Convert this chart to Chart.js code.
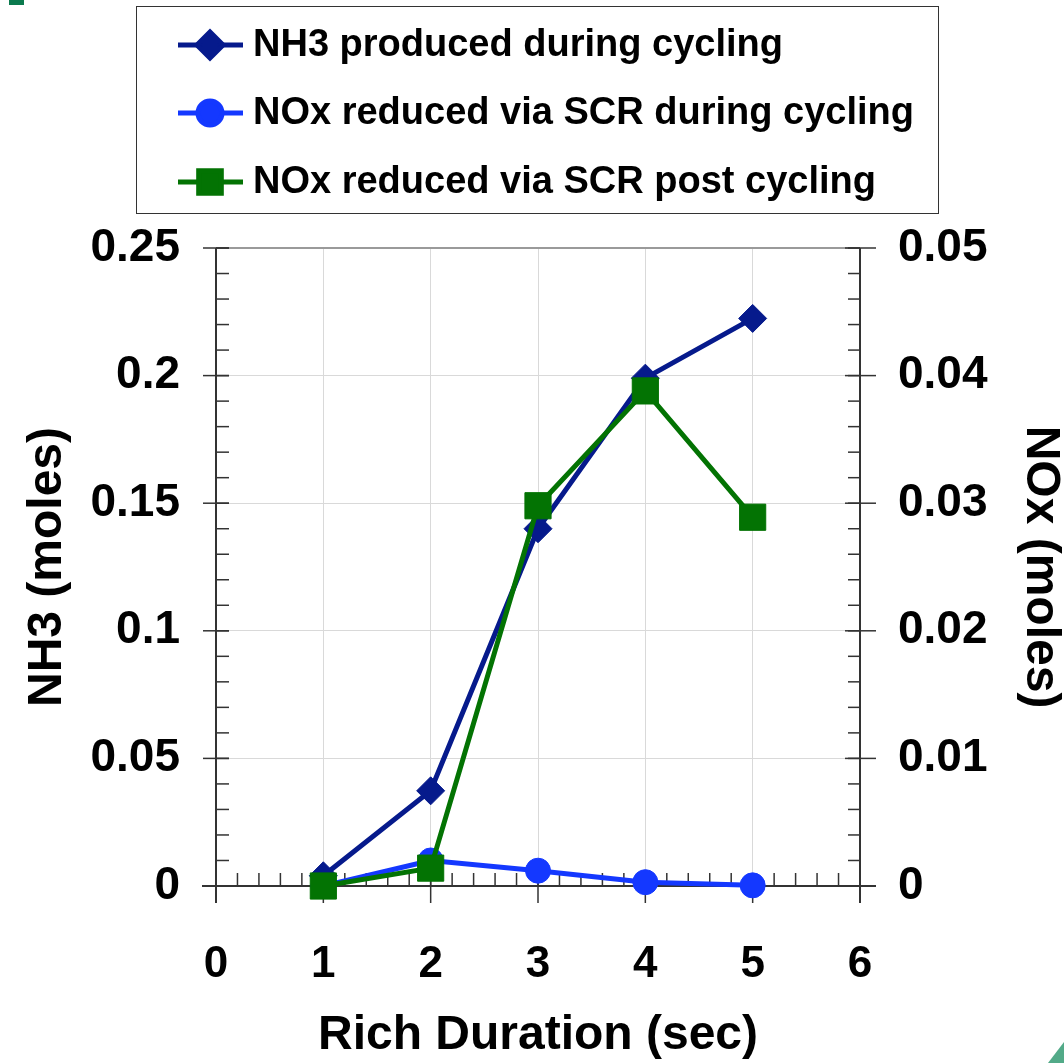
<!DOCTYPE html>
<html>
<head>
<meta charset="utf-8">
<script src="https://cdn.jsdelivr.net/npm/chart.js@4.4.1/dist/chart.umd.min.js"></script>
<style>
  html, body { margin: 0; padding: 0; background: #fff; }
  canvas { display: block; }
</style>
</head>
<body>
<canvas id="chart" width="1064" height="1063"></canvas>
<script>
// ========================================
// 데이터
// ========================================
const richDuration = [1, 2, 3, 4, 5];
const nh3Produced = [0.004, 0.0373, 0.140, 0.199, 0.2224];
const noxDuringCycling = [0.0, 0.0020, 0.0012, 0.0003, 0.00005];
const noxPostCycling = [0.0, 0.0014, 0.0298, 0.0388, 0.0289];

const seriesNames = [
  'NH3 produced during cycling',
  'NOx reduced via SCR during cycling',
  'NOx reduced via SCR post cycling'
];

const xTicks = [0, 1, 2, 3, 4, 5, 6];
const nh3Ticks = [0, 0.05, 0.1, 0.15, 0.2, 0.25];
const nh3TickLabels = ['0', '0.05', '0.1', '0.15', '0.2', '0.25'];
const noxTicks = [0, 0.01, 0.02, 0.03, 0.04, 0.05];
const noxTickLabels = ['0', '0.01', '0.02', '0.03', '0.04', '0.05'];

const FONT = '"Liberation Sans", Arial, sans-serif';

function toPoints(values) {
  return richDuration.map((d, i) => ({ x: d, y: values[i] }));
}

function seg(ctx, x1, y1, x2, y2) {
  ctx.beginPath();
  ctx.moveTo(x1, y1);
  ctx.lineTo(x2, y2);
  ctx.stroke();
}

// ========================================
// 배경 장식 (모서리 녹색 조각)
// ========================================
const cornerDecor = {
  id: 'cornerDecor',
  beforeDraw(chart) {
    const { ctx, width, height } = chart;
    ctx.save();
    ctx.fillStyle = '#0b7a4e';
    ctx.fillRect(9, 0, 15, 5);
    ctx.fillStyle = '#52aa88';
    ctx.beginPath();
    ctx.moveTo(width - 16, height);
    ctx.lineTo(width, height - 21);
    ctx.lineTo(width, height);
    ctx.closePath();
    ctx.fill();
    ctx.restore();
  }
};

// ========================================
// 축선, 주/보조 눈금
// ========================================
const axisFrame = {
  id: 'axisFrame',
  beforeDatasetsDraw(chart) {
    const { ctx, chartArea: a, scales } = chart;
    const x = scales.x, y = scales.y, y2 = scales.y2;
    ctx.save();

    // 위쪽 테두리
    ctx.strokeStyle = '#9a9a9a';
    ctx.lineWidth = 2;
    seg(ctx, a.left, a.top, a.right, a.top);

    ctx.strokeStyle = '#333';
    ctx.lineWidth = 1.5;

    // x축 보조 눈금 (0.2 간격, 안쪽)
    for (let i = 0; i <= 30; i++) {
      const px = x.getPixelForValue(i * 0.2);
      seg(ctx, px, a.bottom, px, a.bottom - 13);
    }
    // x축 주 눈금
    xTicks.forEach(v => {
      const px = x.getPixelForValue(v);
      seg(ctx, px, a.bottom - 13, px, a.bottom + 17);
    });

    // 왼쪽 축 보조 눈금
    for (let i = 0; i <= 25; i++) {
      const py = y.getPixelForValue(i * 0.01);
      seg(ctx, a.left, py, a.left + 13, py);
    }
    nh3Ticks.forEach(v => {
      const py = y.getPixelForValue(v);
      seg(ctx, a.left - 13, py, a.left + 13, py);
    });

    // 오른쪽 축 보조 눈금
    for (let i = 0; i <= 25; i++) {
      const py = y2.getPixelForValue(i * 0.002);
      seg(ctx, a.right - 12, py, a.right, py);
    }
    noxTicks.forEach(v => {
      const py = y2.getPixelForValue(v);
      seg(ctx, a.right - 15, py, a.right + 16, py);
    });

    // 축선
    ctx.lineWidth = 2;
    seg(ctx, a.left - 14, a.bottom, a.right + 16, a.bottom);
    seg(ctx, a.left, a.top, a.left, a.bottom + 17);
    seg(ctx, a.right, a.top, a.right, a.bottom + 17);

    ctx.restore();
  }
};

// ========================================
// 범례 상자
// ========================================
const legendBox = {
  id: 'legendBox',
  afterDraw(chart) {
    const { ctx } = chart;
    const box = { left: 136, top: 6, right: 938, bottom: 213 };
    const rows = [45, 113, 182];
    ctx.save();
    ctx.fillStyle = '#fff';
    ctx.fillRect(box.left, box.top, box.right - box.left, box.bottom - box.top);
    ctx.strokeStyle = '#333';
    ctx.lineWidth = 1;
    ctx.strokeRect(box.left + 0.5, box.top + 0.5, box.right - box.left, box.bottom - box.top);

    chart.data.datasets.forEach((ds, i) => {
      const cy = rows[i];
      ctx.strokeStyle = ds.borderColor;
      ctx.lineWidth = 5;
      seg(ctx, 178, cy, 243, cy);
      ctx.fillStyle = ds.backgroundColor;
      ctx.strokeStyle = ds.backgroundColor;
      Chart.helpers.drawPoint(ctx, {
        pointStyle: ds.pointStyle,
        radius: ds.legendRadius,
        rotation: 0,
        borderWidth: 1
      }, 210, cy);

      ctx.fillStyle = '#000';
      ctx.font = 'bold 38px ' + FONT;
      ctx.textBaseline = 'middle';
      ctx.textAlign = 'left';
      ctx.fillText(ds.label, 253, cy + 1);
    });
    ctx.restore();
  }
};

// ========================================
// 차트
// ========================================
const gridColor = '#d9d9d9';

new Chart(document.getElementById('chart'), {
  type: 'line',
  data: {
    datasets: [
      {
        label: seriesNames[0],
        data: toPoints(nh3Produced),
        yAxisID: 'y',
        borderColor: '#061a8c',
        backgroundColor: '#061a8c',
        borderWidth: 5,
        pointStyle: 'rectRot',
        pointRadius: 14,
        pointBorderWidth: 1,
        legendRadius: 13,
        order: 3,
        clip: false
      },
      {
        label: seriesNames[1],
        data: toPoints(noxDuringCycling),
        yAxisID: 'y2',
        borderColor: '#1438ff',
        backgroundColor: '#1438ff',
        borderWidth: 5,
        pointStyle: 'circle',
        pointRadius: 12.5,
        pointBorderWidth: 1,
        legendRadius: 12,
        order: 2,
        clip: false
      },
      {
        label: seriesNames[2],
        data: toPoints(noxPostCycling),
        yAxisID: 'y2',
        borderColor: '#037303',
        backgroundColor: '#037303',
        borderWidth: 5,
        pointStyle: 'rect',
        pointRadius: 18.5,
        pointBorderWidth: 1,
        legendRadius: 16,
        order: 1,
        clip: false
      }
    ]
  },
  options: {
    responsive: false,
    animation: false,
    layout: { padding: { top: 248, left: 0, right: 0, bottom: 0 } },
    plugins: {
      legend: { display: false },
      tooltip: { enabled: false }
    },
    scales: {
      x: {
        type: 'linear',
        position: 'bottom',
        min: 0,
        max: 6,
        afterFit: s => { s.height = 177; },
        afterBuildTicks: s => { s.ticks = xTicks.map(v => ({ value: v })); },
        grid: { color: gridColor, lineWidth: 1, drawTicks: false },
        border: { display: false },
        ticks: {
          padding: 52,
          color: '#000',
          font: { family: FONT, size: 44, weight: 'bold' },
          callback: v => String(v)
        },
        title: {
          display: true,
          text: 'Rich Duration (sec)',
          color: '#000',
          font: { family: FONT, size: 48, weight: 'bold', lineHeight: 1 },
          padding: { top: 0, bottom: 3 }
        }
      },
      y: {
        type: 'linear',
        position: 'left',
        min: 0,
        max: 0.25,
        afterFit: s => { s.width = 216; },
        afterBuildTicks: s => { s.ticks = nh3Ticks.map(v => ({ value: v })); },
        grid: { color: gridColor, lineWidth: 1, drawTicks: false },
        border: { display: false },
        ticks: {
          padding: 36,
          color: '#000',
          font: { family: FONT, size: 46, weight: 'bold' },
          callback: (v, i) => nh3TickLabels[i]
        },
        title: {
          display: true,
          text: 'NH3 (moles)',
          color: '#000',
          font: { family: FONT, size: 48, weight: 'bold', lineHeight: 1 },
          padding: { top: 24, bottom: 0 }
        }
      },
      y2: {
        type: 'linear',
        position: 'right',
        min: 0,
        max: 0.05,
        afterFit: s => { s.width = 204; },
        afterBuildTicks: s => { s.ticks = noxTicks.map(v => ({ value: v })); },
        grid: { display: false, drawTicks: false },
        border: { display: false },
        ticks: {
          padding: 38,
          color: '#000',
          font: { family: FONT, size: 46, weight: 'bold' },
          callback: (v, i) => noxTickLabels[i]
        },
        title: {
          display: true,
          text: 'NOx (moles)',
          color: '#000',
          font: { family: FONT, size: 48, weight: 'bold', lineHeight: 1 },
          padding: { top: 0, bottom: 0 }
        }
      }
    }
  },
  plugins: [cornerDecor, axisFrame, legendBox]
});
</script>
</body>
</html>
